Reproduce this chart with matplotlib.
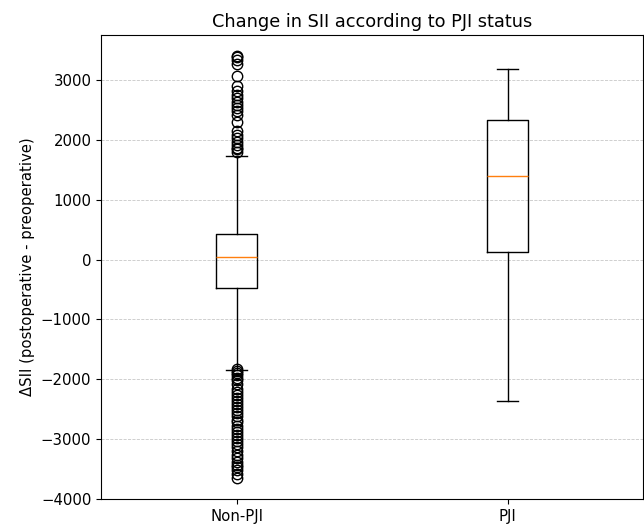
import matplotlib
matplotlib.use('Agg')
import matplotlib.pyplot as plt

# Box summary values
groups = ['Non-PJI', 'PJI']
medians = [50, 1400]
q1 = [-475, 125]
q3 = [430, 2335]
whisker_low = [-1840, -2360]
whisker_high = [1735, 3185]

# outliers (only the Non-PJI group has any)
fliers_nonpji = [3400, 3390, 3330, 3270, 3070, 2900, 2820, 2750, 2700, 2640, 2590,
                 2540, 2480, 2420, 2290, 2140, 2080, 2030, 1960, 1910, 1870, 1840, 1800]
fliers_low_nonpji = [-1830, -1860, -1890, -1930, -1980, -2020, -2080, -2170, -2220, -2270,
                     -2320, -2370, -2420, -2470, -2520, -2570, -2620, -2680, -2720, -2780,
                     -2830, -2880, -2930, -2990, -3040, -3090, -3140, -3200, -3260, -3320,
                     -3380, -3430, -3470, -3520, -3580, -3650]
fliers = [fliers_nonpji + fliers_low_nonpji, []]

stats = []
for i, g in enumerate(groups):
    stats.append({'label': g, 'med': medians[i], 'q1': q1[i], 'q3': q3[i],
                  'whislo': whisker_low[i], 'whishi': whisker_high[i],
                  'fliers': fliers[i]})

plt.rcParams['font.size'] = 10.7
plt.rcParams['lines.linewidth'] = 1.1

fig = plt.figure(figsize=(6.44, 5.26), dpi=100)
ax = fig.add_axes([0.157, 0.0513, 0.8415, 0.8822])
ax.bxp(stats, flierprops=dict(marker='o', markersize=7.5, markerfacecolor='none'))
ax.set_title('Change in SII according to PJI status', fontsize=12.8)
ax.set_ylabel('ΔSII (postoperative - preoperative)')
ax.grid(axis='y', linestyle='--', linewidth=0.6, alpha=0.7)
ax.set_yticks(range(-4000, 3001, 1000))

fig.savefig('out.png', dpi=100)
